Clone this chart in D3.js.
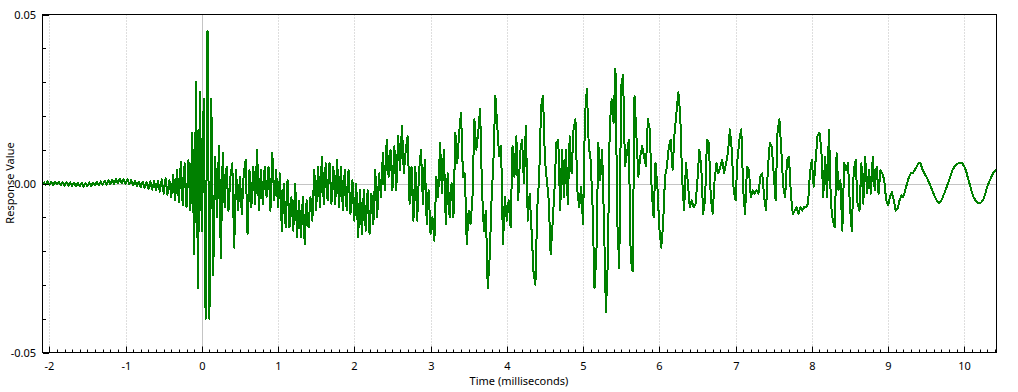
<!DOCTYPE html>
<html><head><meta charset="utf-8">
<script src="https://cdn.jsdelivr.net/npm/d3@7"></script>
<style>html,body{margin:0;padding:0;background:#fff;}svg{display:block;}</style>
</head><body>
<svg id="chart" width="1018" height="392"></svg>
<script>
// ---- data ----
const sampleStart = -2.075;   // ms, time of first sample
const sampleStep = 0.025;     // ms between samples
const response = [
.0005,-.0004,.0006,-.0004,.0005,-.0005,.0006,-.0003,.0005,-.0005,
.0004,-.0006,.0004,-.0006,.0003,-.0007,.0003,-.0008,.0002,-.0008,
.0002,-.0009,.0002,-.0008,.0003,-.0007,.0003,-.0006,.0005,-.0005,
.0006,-.0004,.0008,-.0003,.0009,-.0002,.0011,-.0001,.0013,0,
.0014,.0001,.0013,-.0001,.0012,-.0003,.0010,-.0005,.0008,-.0008,
.0006,-.0011,.0005,-.0013,.0004,-.0016,.0006,-.0018,.0007,-.0021,
.0009,-.0024,.0012,-.0030,.0015,-.0033,.0010,-.0040,.0025,-.0050,
.0040,-.0055,.0065,-.0065,.006,-.007,.007,-.008,.015,-.021,
.030,-.031,.027,-.014,.025,-.040,.045,-.040,.025,-.027,
.008,-.010,.011,-.022,.009,-.007,.005,-.008,.002,.006,
-.019,.004,-.008,.002,-.009,.003,.007,-.015,.004,-.007,
.005,-.006,.010,-.008,.004,-.006,.005,-.004,.005,-.008,
.009,-.005,.004,-.007,.003,-.014,0,-.013,.001,-.013,
-.004,-.014,0,-.016,-.005,-.016,-.004,-.018,-.005,-.013,
-.004,-.011,.004,-.008,.005,-.007,.008,-.006,.006,-.005,
.006,-.006,.005,-.006,.007,-.007,.005,-.008,.004,-.008,
.004,-.009,.001,-.011,0,-.016,-.002,-.015,-.002,-.014,
-.002,-.015,-.003,-.012,.004,-.010,.003,-.004,.009,-.002,
.013,.002,.010,-.002,.011,-.002,.014,.004,.017,.003,
.010,.014,-.006,.005,-.011,.005,-.011,.004,.010,-.006,
.007,-.012,-.002,-.015,-.010,-.017,.002,-.004,.012,-.003,
.010,-.012,.003,-.010,0,-.010,.015,.006,.015,.021,
.002,.003,-.018,-.008,-.012,-.004,.019,.010,.015,.022,
-.002,-.014,-.008,-.031,-.022,-.005,.007,.026,.017,.008,
.011,-.018,-.004,-.011,-.005,-.013,.011,.002,.014,-.005,
.009,.013,0,.017,-.011,-.003,-.014,-.026,-.030,-.007,
.002,.023,.026,.007,.001,-.005,-.021,-.012,-.002,.012,
.013,-.008,.010,-.004,.010,-.006,.014,.003,.016,.019,
-.002,-.007,-.001,-.012,.020,.028,.011,.007,-.007,-.031,
-.021,.012,.001,.010,-.012,-.038,-.023,.017,.025,.018,
.034,-.012,-.025,.029,.032,.005,.009,.013,-.022,-.026,
.026,.014,.002,.008,.011,.008,.005,.019,.016,-.002,
-.010,.006,-.001,-.013,-.019,-.012,.002,.005,.011,.013,
.004,.015,.021,.027,.020,.001,-.008,.006,0,-.007,
-.005,-.007,-.006,.001,.010,.005,-.009,-.005,.013,.012,
-.004,-.009,.001,.006,.003,.005,.007,.003,.006,.009,
.016,.010,-.002,-.005,.007,.013,.016,-.002,-.009,.005,
.004,-.004,-.002,-.003,-.002,-.003,.002,.003,-.004,-.008,
.005,.012,.011,.003,-.005,.015,.019,.010,-.001,-.004,
.007,.008,-.003,-.009,-.008,-.007,-.009,-.007,-.008,-.007,
-.007,-.006,.003,.007,-.001,.007,.014,.015,.010,-.004,
.008,-.004,.016,-.006,-.011,-.013,.009,-.002,.001,-.014,
.006,.004,.006,-.007,-.014,.004,.007,-.006,-.008,.006,
-.006,.008,-.003,.004,-.003,.008,-.002,.005,-.003,.004,
.003,.001,-.005,-.0065,-.004,-.0025,-.005,-.008,-.0075,-.005,
-.0035,-.004,-.002,0,.002,.003,.003,.004,.005,.006,
.006,.0042,.003,.0021,.0009,-.0004,-.0018,-.0032,-.0045,-.0054,
-.0058,-.005,-.0036,-.0022,-.0006,.001,.0027,.0042,.0051,.0056,
.0061,.0062,.0059,.005,.0036,.0013,-.0005,-.0027,-.0042,-.0051,
-.0057,-.0059,-.0055,-.0047,-.003,-.001,.0005,.0017,.003,.0037,
.004
];
const xDomain = [-2.089, 10.422];
const yDomain = [-0.05, 0.05];
const xTicks = [-2, -1, 0, 1, 2, 3, 4, 5, 6, 7, 8, 9, 10];
const xMinorStep = 0.1;
const yTicks = [-0.05, 0, 0.05];
const yMinorStep = 0.01;
const xTitle = "Time (milliseconds)";
const yTitle = "Response Value";

// ---- drawing ----
const svg = d3.select("#chart");
const plot = {left: 42.5, right: 996.5, top: 14.5, bottom: 352.5};
const x = d3.scaleLinear().domain(xDomain).range([plot.left, plot.right]);
const y = d3.scaleLinear().domain(yDomain).range([plot.bottom, plot.top]);
const xr = x.copy().interpolate(d3.interpolateRound);
const yr = y.copy().interpolate(d3.interpolateRound);
const font = "'Noto Sans', 'Open Sans', sans-serif";

const data = response.map((v, i) => ({t: sampleStart + i * sampleStep, v}));

svg.append("defs").append("clipPath").attr("id", "clip")
  .append("rect").attr("x", plot.left).attr("y", plot.top)
  .attr("width", plot.right - plot.left).attr("height", plot.bottom - plot.top);

// grid
svg.append("g").selectAll("line").data(xTicks.filter(d => d !== 0)).join("line")
  .attr("x1", d => xr(d) + 0.5).attr("x2", d => xr(d) + 0.5)
  .attr("y1", plot.top).attr("y2", plot.bottom)
  .attr("stroke", "#bcbcbc").attr("stroke-dasharray", "1,2");
svg.append("line")
  .attr("x1", xr(0) + 0.5).attr("x2", xr(0) + 0.5)
  .attr("y1", plot.top).attr("y2", plot.bottom)
  .attr("stroke", "#c4c4c4");
svg.append("line")
  .attr("x1", plot.left).attr("x2", plot.right)
  .attr("y1", yr(0) + 0.5).attr("y2", yr(0) + 0.5)
  .attr("stroke", "#c4c4c4");

// waveform
svg.append("path").datum(data)
  .attr("clip-path", "url(#clip)")
  .attr("fill", "none").attr("stroke", "#008000").attr("stroke-width", 2)
  .attr("stroke-linejoin", "round")
  .attr("shape-rendering", "crispEdges")
  .attr("d", d3.line().x(d => x(d.t)).y(d => y(d.v)));

// frame
svg.append("rect").attr("x", plot.left).attr("y", plot.top)
  .attr("width", plot.right - plot.left).attr("height", plot.bottom - plot.top)
  .attr("fill", "none").attr("stroke", "#000");

// axes
const xMinor = d3.range(Math.ceil(xDomain[0] / xMinorStep), Math.floor(xDomain[1] / xMinorStep) + 1)
  .map(k => +(k * xMinorStep).toFixed(2)).filter(d => !xTicks.includes(d));
const yMinor = d3.range(-4, 5).map(k => +(k * yMinorStep).toFixed(2)).filter(d => !yTicks.includes(d));

function styleAxis(g) {
  g.select(".domain").remove();
  g.selectAll("line").attr("stroke", "#000");
  g.selectAll("text").attr("fill", "#000").style("font-family", font).style("font-size", "11px");
}

svg.append("g").attr("transform", `translate(0,${plot.bottom})`)
  .call(d3.axisBottom(xr).tickValues(xMinor).tickSize(-3).tickFormat(""))
  .call(styleAxis);
svg.append("g").attr("transform", `translate(0,${plot.bottom})`)
  .call(d3.axisBottom(xr).tickValues(xTicks).tickSize(-6).tickPadding(9.5).tickFormat(d => String(d)))
  .call(styleAxis);
svg.append("g").attr("transform", `translate(43,0)`)
  .call(d3.axisLeft(yr).tickValues(yMinor).tickSize(-3).tickFormat(""))
  .call(styleAxis);
svg.append("g").attr("transform", `translate(43,0)`)
  .call(d3.axisLeft(yr).tickValues(yTicks).tickSize(-6).tickPadding(7).tickFormat(d => d.toFixed(2)))
  .call(styleAxis);

// titles
svg.append("text").attr("x", 519).attr("y", 385).attr("text-anchor", "middle")
  .style("font-family", font).style("font-size", "11px").attr("fill", "#000").text(xTitle);
svg.append("text").attr("transform", "translate(13.5,183) rotate(-90)").attr("text-anchor", "middle")
  .style("font-family", font).style("font-size", "11px").attr("fill", "#000").text(yTitle);
</script>
</body></html>
